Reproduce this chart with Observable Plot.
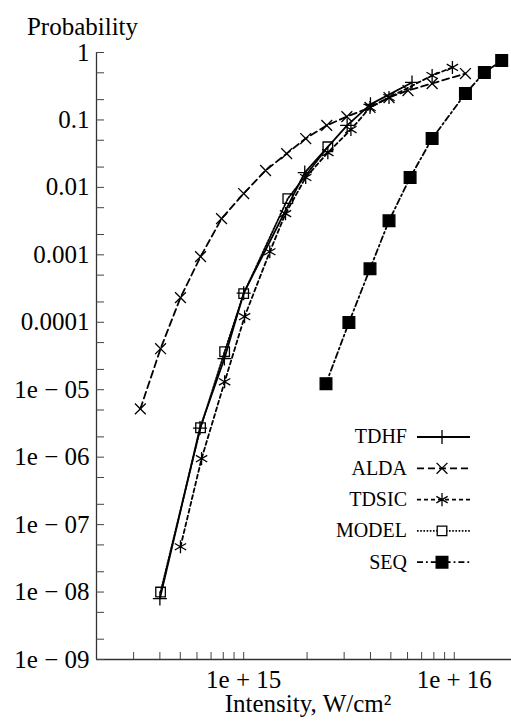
<!DOCTYPE html>
<html><head><meta charset="utf-8">
<script src="https://cdn.jsdelivr.net/npm/d3@7"></script>
<script src="https://cdn.jsdelivr.net/npm/@observablehq/plot@0.6"></script>
<style>
body{margin:0;background:#fff}
#chart{width:511px;height:724px}
#chart svg, #chart svg *{font-family:'Liberation Serif','Times New Roman',serif !important}
</style>
</head><body><div id="chart"></div>
<script>
// ---- data ----
const seriesNames = ["TDHF", "ALDA", "TDSIC", "MODEL", "SEQ"];

const tdhfI = [4.0e14, 6.2e14, 8.1e14, 1.0e15, 1.95e15, 3.1e15, 4.0e15, 6.3e15];
const tdhfP = [8e-9, 2.7e-6, 2.9e-5, 2.7e-4, 0.0166, 0.083, 0.17, 0.36];

const aldaI = [3.23e14, 4.03e14, 5.01e14, 6.24e14, 7.85e14, 1.0e15, 1.27e15, 1.6e15, 1.97e15, 2.48e15, 3.09e15, 3.98e15, 4.9e15, 6.03e15, 7.85e15, 1.13e16];
const aldaP = [5.2e-6, 4.06e-5, 2.32e-4, 9.4e-4, 3.44e-3, 8.1e-3, 0.0178, 0.0317, 0.053, 0.083, 0.112, 0.153, 0.215, 0.273, 0.347, 0.488];

const tdsicI = [5.01e14, 6.31e14, 8.12e14, 1.01e15, 1.33e15, 1.58e15, 1.97e15, 2.51e15, 3.23e15, 3.98e15, 4.9e15, 7.85e15, 9.8e15];
const tdsicP = [4.7e-8, 9.5e-7, 1.31e-5, 1.21e-4, 1.11e-3, 4.08e-3, 0.014, 0.0328, 0.072, 0.153, 0.215, 0.456, 0.6];

const modelI = [4.03e14, 6.24e14, 8.12e14, 1.0e15, 1.62e15, 2.51e15];
const modelP = [1e-8, 2.73e-6, 3.66e-5, 2.66e-4, 6.8e-3, 0.040];

const seqI = [2.46e15, 3.16e15, 3.98e15, 4.9e15, 6.17e15, 7.85e15, 1.13e16, 1.39e16, 1.68e16];
const seqP = [1.23e-5, 9.9e-5, 6.2e-4, 3.2e-3, 0.014, 0.053, 0.246, 0.505, 0.76];

const xDomain = [2e14, 1.87e16];
const yDomain = [1e-9, 1];
const xMinorTicks = [3e14, 4e14, 5e14, 6e14, 7e14, 8e14, 9e14, 1e15, 2e15, 3e15, 4e15, 5e15, 6e15, 7e15, 8e15, 9e15, 1e16];
const xMajorTicks = [1e15, 1e16];
const xTickLabels = ["1e + 15", "1e + 16"];
const yMajorTicks = [1, 0.1, 0.01, 0.001, 0.0001, 1e-5, 1e-6, 1e-7, 1e-8, 1e-9];
const yTickLabels = ["1", "0.1", "0.01", "0.001", "0.0001", "1e \u2212 05", "1e \u2212 06", "1e \u2212 07", "1e \u2212 08", "1e \u2212 09"];
const yMinorTicks = [1, 0.5, 0.2, 0.1, 0.05, 0.02, 0.01, 0.005, 0.002, 0.001, 5e-4, 2e-4, 1e-4, 5e-5, 2e-5, 1e-5, 5e-6, 2e-6, 1e-6, 5e-7, 2e-7, 1e-7, 5e-8, 2e-8, 1e-8, 5e-9, 2e-9, 1e-9];
const xLabel = "Intensity, W/cm\u00b2";
const yLabel = "Probability";

// ---- styles ----
const styles = {
  TDHF:  {dash: null,        symbol: "plus",     r: 4.6, fill: "none"},
  ALDA:  {dash: "7,4",       symbol: "times",    r: 5,   fill: "none"},
  TDSIC: {dash: "4,3",       symbol: "asterisk", r: 6.2, fill: "none"},
  MODEL: {dash: "1.6,1.6",   symbol: "square",   r: 5.4, fill: "none"},
  SEQ:   {dash: "6,3,1.8,3", symbol: "square",   r: 6.6, fill: "black"}
};

const seriesData = {
  TDHF: tdhfI.map((I, i) => ({I, P: tdhfP[i]})),
  ALDA: aldaI.map((I, i) => ({I, P: aldaP[i]})),
  TDSIC: tdsicI.map((I, i) => ({I, P: tdsicP[i]})),
  MODEL: modelI.map((I, i) => ({I, P: modelP[i]})),
  SEQ: seqI.map((I, i) => ({I, P: seqP[i]}))
};

const FONT = "'Liberation Serif', 'Times New Roman', serif";
const marks = [];
marks.push(Plot.ruleX([xDomain[0]], {stroke: "#333", strokeWidth: 1.3}));
marks.push(Plot.ruleY([yDomain[0]], {stroke: "#333", strokeWidth: 1.3}));
marks.push(Plot.axisX(xMinorTicks, {anchor: "bottom", tickSize: -7, tickFormat: () => "", stroke: "#444", label: null}));
marks.push(Plot.axisY(yMinorTicks, {anchor: "left", tickSize: -8, tickFormat: () => "", stroke: "#444", label: null}));
// tick labels as text marks positioned through the scales
marks.push(Plot.text(yMajorTicks, {x: () => xDomain[0], y: (d) => d, text: (d, i) => yTickLabels[i], textAnchor: "end", dx: -7, fontSize: 25, fontFamily: FONT, fill: "black"}));
marks.push(Plot.text(xMajorTicks, {x: (d) => d, y: () => yDomain[0], text: (d, i) => xTickLabels[i], lineAnchor: "middle", dy: 20, fontSize: 25, fontFamily: FONT, fill: "black"}));

for (const name of seriesNames) {
  const s = styles[name];
  marks.push(Plot.line(seriesData[name], {x: "I", y: "P", stroke: "black", strokeWidth: 1.8, strokeDasharray: s.dash}));
}
for (const name of seriesNames) {
  const s = styles[name];
  marks.push(Plot.dot(seriesData[name], {x: "I", y: "P", symbol: s.symbol, r: s.r, stroke: "black", strokeWidth: 1.3, fill: s.fill}));
}
marks.push(Plot.text([yLabel], {frameAnchor: "top-left", dx: -14, dy: -35, fontSize: 25, fontFamily: FONT, textAnchor: "middle"}));
marks.push(Plot.text([xLabel], {frameAnchor: "bottom", dx: 4, dy: 52, fontSize: 25, fontFamily: FONT, textAnchor: "middle"}));

const chart = Plot.plot({
  width: 511, height: 724,
  marginLeft: 96, marginRight: 0, marginTop: 52, marginBottom: 65,
  style: {fontFamily: FONT, fontSize: "25px", background: "white", color: "black", overflow: "visible"},
  x: {type: "log", domain: xDomain, label: null},
  y: {type: "log", domain: yDomain, label: null},
  marks
});
document.getElementById("chart").appendChild(chart);

// ---- legend ----
const svg = d3.select(chart);
const lg = svg.append("g").attr("class", "legend").attr("font-family", FONT).attr("font-size", 20);
const legX = 407, lineX1 = 417, lineX2 = 470, markX = 442, legY0 = 437, legDY = 31.3;
const symMap = {plus: d3.symbolPlus, times: d3.symbolTimes, asterisk: d3.symbolAsterisk, square: d3.symbolSquare};
seriesNames.forEach((name, i) => {
  const s = styles[name];
  const y = legY0 + i * legDY;
  lg.append("text").attr("x", legX).attr("y", y).attr("dy", "0.32em").attr("text-anchor", "end").attr("fill", "black").text(name);
  lg.append("line").attr("x1", lineX1).attr("x2", lineX2).attr("y1", y).attr("y2", y)
    .attr("stroke", "black").attr("stroke-width", 1.8).attr("stroke-dasharray", s.dash);
  lg.append("path").attr("transform", `translate(${markX},${y})`)
    .attr("d", d3.symbol(symMap[s.symbol], Math.PI * s.r * s.r)())
    .attr("stroke", "black").attr("stroke-width", 1.3)
    .attr("fill", s.fill === "none" ? "white" : s.fill);
});
</script>
</body></html>
